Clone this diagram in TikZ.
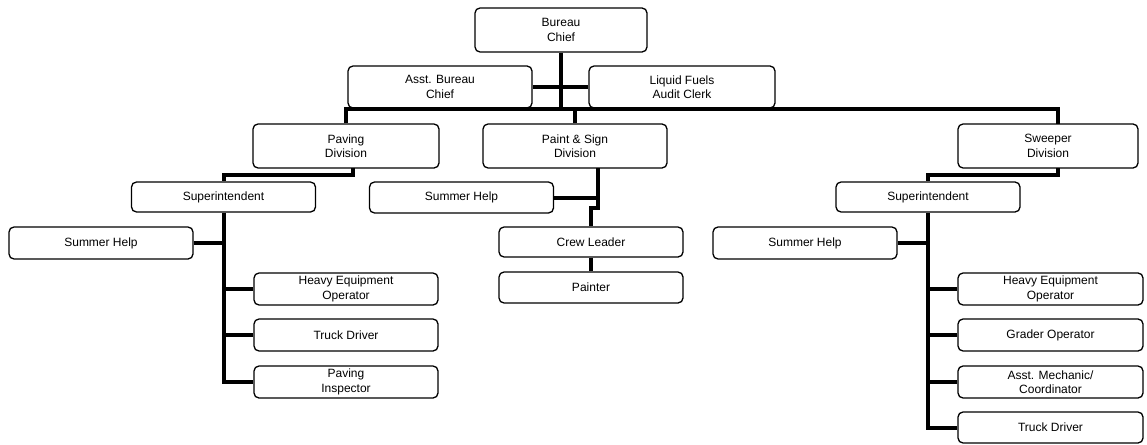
\documentclass[tikz,border=0pt]{standalone}
\usepackage{fontspec}
\setmainfont{Liberation Sans}
\usepackage{tikz}

\tikzset{
  box/.style={draw, rectangle, rounded corners=5pt, line width=1.3pt,
    align=center, inner sep=0pt, minimum width=184pt, minimum height=32pt,
    font=\fontsize{12}{14.5}\selectfont},
  link/.style={line width=4pt}
}

\begin{document}
\begin{tikzpicture}[x=1pt, y=-1pt]
  \useasboundingbox (0,0) rectangle (1147,444);

  % top of the chart
  \node[box, minimum width=172pt, minimum height=44pt] (chief) at (561,30) {Bureau\\Chief};
  \node[box, minimum height=42pt] (asst) at (440,87) {Asst. Bureau\\Chief};
  \node[box, minimum width=186pt, minimum height=42pt] (fuels) at (682,87) {Liquid Fuels\\Audit Clerk};

  % divisions
  \node[box, minimum width=186pt, minimum height=44pt] (paving) at (346,146) {Paving\\Division};
  \node[box, minimum height=44pt] (paint) at (575,146) {Paint \& Sign\\Division};
  \node[box, minimum width=180pt, minimum height=44pt] (sweeper) at (1048,146) {Sweeper\\Division};

  % paving division
  \node[box, minimum height=30pt] (psup) at (223.5,197) {Superintendent};
  \node[box] (psum) at (101,243) {Summer Help};
  \node[box] (pheavy) at (346,289) {Heavy Equipment\\Operator};
  \node[box] (ptruck) at (346,335) {Truck Driver};
  \node[box] (pinsp) at (346,382) {Paving\\Inspector};

  % paint & sign division
  \node[box, minimum height=31pt] (hsum) at (461.5,197.5) {Summer Help};
  \node[box, minimum height=30pt] (crew) at (591,242) {Crew Leader};
  \node[box, minimum height=31pt] (painter) at (591,287.5) {Painter};

  % sweeper division
  \node[box, minimum height=30pt] (ssup) at (928,197) {Superintendent};
  \node[box] (ssum) at (805,243) {Summer Help};
  \node[box, minimum width=185pt] (sheavy) at (1050.5,289) {Heavy Equipment\\Operator};
  \node[box, minimum width=185pt] (sgrader) at (1050.5,335) {Grader Operator};
  \node[box, minimum width=185pt] (smech) at (1050.5,382) {Asst. Mechanic/\\Coordinator};
  \node[box, minimum width=185pt, minimum height=31pt] (struck) at (1050.5,427.5) {Truck Driver};

  \coordinate (pvout) at (353,168);
  \coordinate (ptout) at (598,168);
  \coordinate (swin) at (1058,124);
  \coordinate (swout) at (1058,168);

  % connectors
  \draw[link] (chief.south) -- (chief.south |- asst.south);
  \draw[link] (asst.east) -- (fuels.west);
  \draw[link] (paving.north) |- (chief.south |- asst.south) -| (swin);
  \draw[link] (paint.north) -- (paint.north |- asst.south);

  \draw[link] (pvout) -- ++(0,7) -| (psup.north);
  \draw[link] (psup.south) |- (pinsp.west);
  \draw[link] (psum.east) -- (psum.east -| psup.south);
  \foreach \n in {pheavy,ptruck}
    \draw[link] (\n.west) -- (\n.west -| psup.south);

  \draw[link] (ptout) -- ++(0,40) -| (crew.north);
  \draw[link] (hsum.east) -- (hsum.east -| ptout);
  \draw[link] (crew.south) -- (painter.north);

  \draw[link] (swout) -- ++(0,7) -| (ssup.north);
  \draw[link] (ssup.south) |- (struck.west);
  \draw[link] (ssum.east) -- (ssum.east -| ssup.south);
  \foreach \n in {sheavy,sgrader,smech}
    \draw[link] (\n.west) -- (\n.west -| ssup.south);
\end{tikzpicture}
\end{document}
